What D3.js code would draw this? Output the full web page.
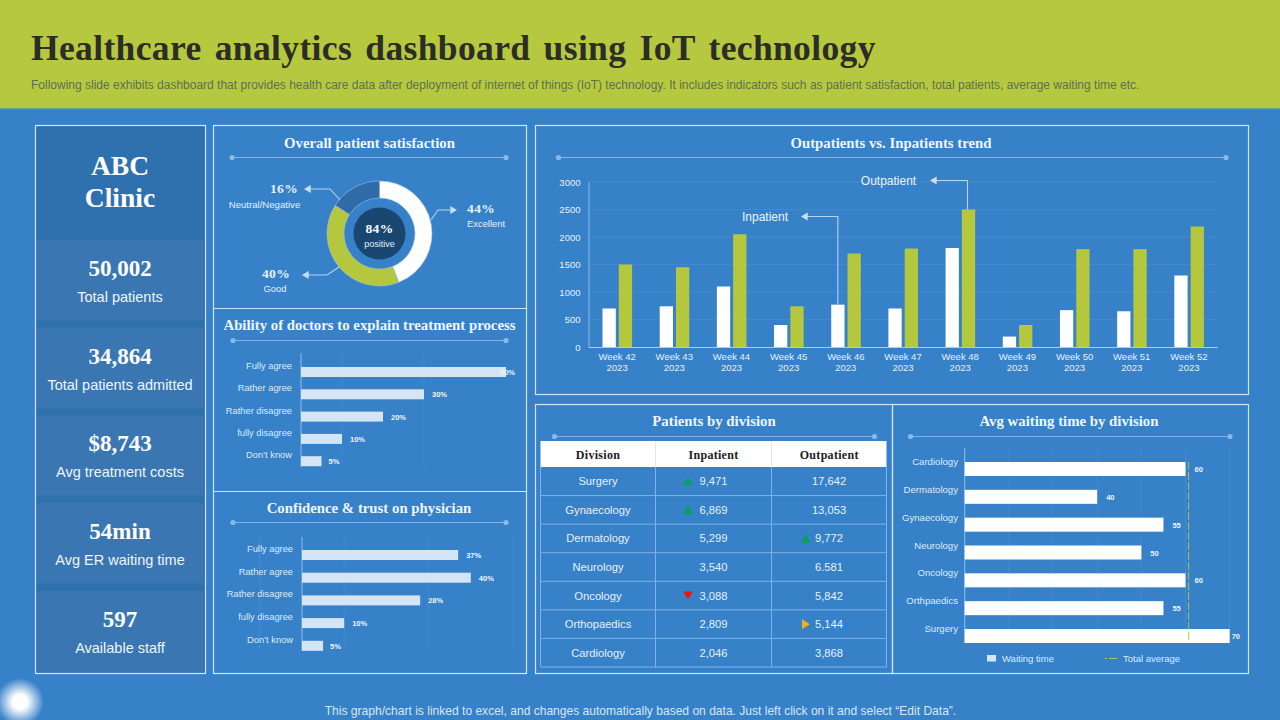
<!DOCTYPE html>
<html>
<head>
<meta charset="utf-8">
<script src="https://cdn.jsdelivr.net/npm/d3@7"></script>
<style>
html,body{margin:0;padding:0;background:#3781c8;overflow:hidden}
svg{display:block}
text{font-family:"Liberation Sans",Arial,sans-serif}
.s{font-family:"Liberation Serif","Times New Roman",serif;font-weight:bold}
</style>
</head>
<body>
<svg id="c" width="1280" height="720"></svg>
<script>
// ---------- data ----------
const pageTitle = "Healthcare analytics dashboard using IoT technology";
const pageSubtitle = "Following slide exhibits dashboard that provides health care data after deployment of internet of things (IoT) technology. It includes indicators such as patient satisfaction, total patients, average waiting time etc.";
const pageFooter = "This graph/chart is linked to excel, and changes automatically based on data. Just left click on it and select \u201cEdit Data\u201d.";
const clinicName = ["ABC", "Clinic"];
const kpiValues = ["50,002", "34,864", "$8,743", "54min", "597"];
const kpiLabels = ["Total patients", "Total patients admitted", "Avg treatment costs", "Avg ER waiting time", "Available  staff"];

const satisfactionLabels = ["Excellent", "Good", "Neutral/Negative"];
const satisfactionValues = [44, 40, 16];

const agreeLabels = ["Fully agree", "Rather agree", "Rather disagree", "fully disagree", "Don\u2019t know"];
const doctorValues = [50, 30, 20, 10, 5];
const trustValues = [37, 40, 28, 10, 5];

const weeks = ["Week 42", "Week 43", "Week 44", "Week 45", "Week 46", "Week 47", "Week 48", "Week 49", "Week 50", "Week 51", "Week 52"];
const weekYear = "2023";
const inpatientTrend = [700, 740, 1100, 400, 770, 700, 1800, 190, 670, 650, 1300];
const outpatientTrend = [1500, 1450, 2050, 740, 1700, 1790, 2500, 400, 1780, 1780, 2190];
const trendTicks = [0, 500, 1000, 1500, 2000, 2500, 3000];

const tableHeader = ["Division", "Inpatient", "Outpatient"];
const tableDivisions = ["Surgery", "Gynaecology", "Dermatology", "Neurology", "Oncology", "Orthopaedics", "Cardiology"];
const tableInpatient = ["9,471", "6,869", "5,299", "3,540", "3,088", "2,809", "2,046"];
const tableOutpatient = ["17,642", "13,053", "9,772", "6.581", "5,842", "5,144", "3,868"];
const tableInMarks = ["up", "up", "", "", "down", "", ""];
const tableOutMarks = ["", "", "up", "", "", "right", ""];

const waitDivisions = ["Cardiology", "Dermatology", "Gynaecology", "Neurology", "Oncology", "Orthpaedics", "Surgery"];
const waitValues = [60, 40, 55, 50, 60, 55, 70];
const waitAverage = 60.7;
const waitTicks = [20, 30, 40, 50, 60, 70];

// ---------- palette ----------
const BG = "#3781c8", GREEN = "#b5c73c", LINE = "#cfe6fa", RULE = "#7fb2e8", DOT = "#8db8e6",
      PALE = "#d5e5f5", TXT = "#e6f0fa", GRID = "#478cd0";

const svg = d3.select("#c");
const defs = svg.append("defs");
const glow = defs.append("radialGradient").attr("id", "glow");
glow.append("stop").attr("offset", "0.3").attr("stop-color", "#fff");
glow.append("stop").attr("offset", "1").attr("stop-color", "#fff").attr("stop-opacity", 0);

svg.append("rect").attr("width", 1280).attr("height", 720).attr("fill", BG);
svg.append("rect").attr("width", 1280).attr("height", 108).attr("fill", "#b6c83f");
svg.append("rect").attr("y", 108).attr("width", 1280).attr("height", 1.5).attr("fill", "#5f9f96");
svg.append("circle").attr("cx", 20).attr("cy", 702).attr("r", 24).attr("fill", "url(#glow)");

function txt(x, y, s, size, o = {}) {
  return svg.append("text").attr("x", x).attr("y", y).text(s)
    .attr("font-size", size).attr("fill", o.fill || TXT)
    .attr("text-anchor", o.anchor || "middle")
    .attr("class", o.serif ? "s" : null)
    .attr("font-weight", o.bold ? "bold" : null)
    .style("letter-spacing", o.ls || null)
    .style("word-spacing", o.ws || null);
}
function box(x, y, w, h) {
  svg.append("rect").attr("x", x).attr("y", y).attr("width", w).attr("height", h)
    .attr("fill", "none").attr("stroke", LINE).attr("stroke-width", 1.2);
}
function heading(cx, y, s, x1, x2, ry) {
  txt(cx, y, s, 14.8, {serif: true, fill: "#eef5fc"});
  svg.append("line").attr("x1", x1).attr("x2", x2).attr("y1", ry).attr("y2", ry).attr("stroke", RULE).attr("stroke-width", 1.2);
  [x1, x2].forEach(x => svg.append("circle").attr("cx", x).attr("cy", ry).attr("r", 2.6).attr("fill", DOT));
}

// ---------- header ----------
txt(31, 60, pageTitle, 35.5, {serif: true, fill: "#2b2d26", anchor: "start", ls: "0.36px", ws: "4px"});
txt(31, 89, pageSubtitle, 12, {fill: "#5d7050", anchor: "start"});
txt(640.5, 715, pageFooter, 12.05, {fill: "#d7e6f4"});

// ---------- KPI column ----------
svg.append("rect").attr("x", 36).attr("y", 126).attr("width", 169).attr("height", 547).attr("fill", "#2f70ae");
const kpiY = d3.scaleBand().domain(kpiValues).range([240, 671]).paddingInner(0.085).paddingOuter(0);
kpiValues.forEach((v, i) => {
  const y = kpiY(v), h = kpiY.bandwidth();
  svg.append("rect").attr("x", 36).attr("y", y).attr("width", 167).attr("height", h + (i === 4 ? 2 : 0)).attr("fill", "#3a77b2");
  txt(120, y + 36, v, 23, {serif: true, fill: "#fff"});
  txt(120, y + 62, kpiLabels[i], 14.5, {fill: "#eef5fc"});
});
txt(120, 175, clinicName[0], 27.5, {serif: true, fill: "#fff"});
txt(120, 207, clinicName[1], 27.5, {serif: true, fill: "#fff"});

box(35.5, 125.5, 170, 548);
box(213.5, 125.5, 313, 548);
svg.append("line").attr("x1", 213.5).attr("x2", 526.5).attr("y1", 308.5).attr("y2", 308.5).attr("stroke", LINE).attr("stroke-width", 1.2);
svg.append("line").attr("x1", 213.5).attr("x2", 526.5).attr("y1", 491.5).attr("y2", 491.5).attr("stroke", LINE).attr("stroke-width", 1.2);
box(535.5, 125.5, 713, 269);
box(535.5, 404.5, 357, 269);
box(892.5, 404.5, 356, 269);

// ---------- arrows ----------
function arrow(points) {
  svg.append("path").attr("d", d3.line()(points)).attr("fill", "none").attr("stroke", "#b7d4f0").attr("stroke-width", 1.1);
  const [a, b] = points.slice(-2);
  const ang = Math.atan2(b[1] - a[1], b[0] - a[0]);
  const p = t => [b[0] + Math.cos(ang + t) * 7, b[1] + Math.sin(ang + t) * 7];
  const head = [[b[0] + Math.cos(ang) * 1, b[1] + Math.sin(ang) * 1], p(Math.PI * 0.8), p(-Math.PI * 0.8)];
  svg.append("polygon").attr("points", head.join(" ")).attr("fill", "#c6dff5");
}

// ---------- donut ----------
heading(369.5, 148, "Overall patient satisfaction", 232, 506, 157.5);
const dc = [379.5, 233.5];
const pie = d3.pie().sort(null)(satisfactionValues);
const arc = d3.arc().innerRadius(35.5).outerRadius(52.5);
const donut = svg.append("g").attr("transform", `translate(${dc})`);
const sliceFill = ["#ffffff", GREEN, "#2f6ba8"];
donut.selectAll("path").data(pie).join("path").attr("d", arc)
  .attr("fill", (d, i) => sliceFill[i]).attr("stroke", "#9cc3ea").attr("stroke-width", 0.6);
donut.append("circle").attr("r", 26).attr("fill", "#1a4672");
txt(dc[0], dc[1] - 1, "84%", 13.5, {serif: true, fill: "#fff", ls: "0.4px"});
txt(dc[0], dc[1] + 13, "positive", 9, {fill: "#e6f0fa"});

arrow([[431, 220], [438, 210], [456, 210]]);
txt(467, 213, satisfactionValues[0] + "%", 13.5, {serif: true, anchor: "start", ls: "0.4px"});
txt(467, 227, satisfactionLabels[0], 9.4, {anchor: "start"});
arrow([[339, 267], [327, 275], [303, 275]]);
txt(276, 278, satisfactionValues[1] + "%", 13.5, {serif: true, ls: "0.4px"});
txt(275, 292, satisfactionLabels[1], 9.4);
arrow([[340, 200], [330, 189], [305, 189]]);
txt(284, 193, satisfactionValues[2] + "%", 13.5, {serif: true, ls: "0.4px"});
txt(264.5, 208, satisfactionLabels[2], 9.6);

// ---------- horizontal percentage bars ----------
function hbars(values, x0, perUnit, yTop, yBot, gridVals, cy0, step) {
  const x = d3.scaleLinear().domain([0, 50]).range([x0, x0 + perUnit * 50]);
  const y = d3.scalePoint().domain(agreeLabels).range([cy0, cy0 + step * 4]);
  gridVals.forEach(g => svg.append("line").attr("x1", x(g)).attr("x2", x(g)).attr("y1", yTop).attr("y2", yBot)
    .attr("stroke", GRID).attr("stroke-width", 0.8));
  svg.append("line").attr("x1", x0).attr("x2", x0).attr("y1", yTop).attr("y2", yBot).attr("stroke", "#8fbdea").attr("stroke-width", 1);
  agreeLabels.forEach((l, i) => {
    const cy = y(l);
    svg.append("rect").attr("x", x0).attr("y", cy - 5).attr("width", x(values[i]) - x0).attr("height", 10).attr("fill", PALE);
    txt(x0 - 9, cy - 3, l, 9.3, {anchor: "end", fill: "#dcebf8"});
    const lx = values[i] === 50 ? x(values[i]) - 6 : x(values[i]) + (values[i] === 5 ? 7 : 8);
    txt(lx, cy + 3, values[i] + "%", 7.5, {anchor: "start", bold: true, fill: "#eef5fc"});
  });
}
heading(369.5, 330, "Ability of doctors to explain treatment process", 233, 506, 340.5);
hbars(doctorValues, 301, 4.1, 353, 467, [10, 30], 372, 22.3);
heading(369, 513, "Confidence & trust on physician", 233, 506, 522.5);
hbars(trustValues, 302, 4.22, 537, 651, [-10, 10, 30, 50], 555, 22.7);

// ---------- trend ----------
heading(891, 148, "Outpatients vs. Inpatients trend", 558.5, 1226, 157.5);
const tx = d3.scaleBand().domain(weeks).range([588.5, 1217.5]).paddingInner(0).paddingOuter(0);
const ty = d3.scaleLinear().domain([0, 3000]).range([347, 182]);
const bandIn = d3.scaleBand().domain(["in", "out"]).range([14, 43.6]).paddingInner(0.184);
trendTicks.forEach(t => {
  if (t) svg.append("line").attr("x1", 588.5).attr("x2", 1217.5).attr("y1", ty(t)).attr("y2", ty(t)).attr("stroke", GRID).attr("stroke-width", 0.8);
});
const yAxis = svg.append("g").attr("transform", "translate(588.5,0)").call(d3.axisLeft(ty).tickValues(trendTicks).tickSize(0).tickPadding(8).tickFormat(d3.format("d")));
yAxis.select(".domain").attr("stroke", "#8fbdea");
yAxis.selectAll("text").attr("font-size", 9.5).attr("fill", TXT).attr("font-family", "Liberation Sans");
const xAxis = svg.append("g").attr("transform", "translate(0,347)").call(d3.axisBottom(tx).tickSize(0).tickPadding(6));
xAxis.select(".domain").attr("stroke", "#a5cdf2").attr("stroke-width", 1.2);
xAxis.selectAll("text").attr("font-size", 9.5).attr("fill", TXT).attr("font-family", "Liberation Sans");
xAxis.selectAll(".tick").append("text").attr("y", 17).attr("dy", "0.71em").text(weekYear)
  .attr("font-size", 9.5).attr("fill", TXT).attr("font-family", "Liberation Sans");
xAxis.selectAll(".tick text").attr("text-anchor", "middle");
svg.append("g").selectAll("rect").data(inpatientTrend).join("rect")
  .attr("x", (d, i) => tx(weeks[i]) + bandIn("in")).attr("width", bandIn.bandwidth())
  .attr("y", d => ty(d)).attr("height", d => ty(0) - ty(d)).attr("fill", "#fff");
svg.append("g").selectAll("rect").data(outpatientTrend).join("rect")
  .attr("x", (d, i) => tx(weeks[i]) + bandIn("out")).attr("width", bandIn.bandwidth())
  .attr("y", d => ty(d)).attr("height", d => ty(0) - ty(d)).attr("fill", GREEN);
const inX = tx(weeks[4]) + bandIn("in") + bandIn.bandwidth() * 0.5;
arrow([[inX, ty(inpatientTrend[4])], [inX, 216.5], [802, 216.5]]);
txt(765, 221, "Inpatient", 12, {fill: "#eaf3fb"});
const outX = tx(weeks[6]) + bandIn("out") + bandIn.bandwidth() * 0.42;
arrow([[outX, ty(outpatientTrend[6])], [outX, 180.5], [931, 180.5]]);
txt(888.5, 185, "Outpatient", 12, {fill: "#eaf3fb"});

// ---------- table ----------
heading(714, 426, "Patients by division", 554.5, 874.5, 436.5);
const colX = d3.scaleOrdinal().domain(tableHeader).range([540.5, 655.5, 771.5]);
const colW = [115, 116, 115.5];
const rowY = d3.scaleBand().domain(tableDivisions).range([467, 667]);
svg.append("rect").attr("x", 540.5).attr("y", 441).attr("width", 346).attr("height", 26).attr("fill", "#fff");
tableHeader.forEach((h, i) => {
  txt(colX(h) + colW[i] / 2, 458.5, h, 12, {serif: true, fill: "#1c1c1c", ls: "0.3px"});
});
[655.5, 771.5].forEach(x => {
  svg.append("line").attr("x1", x).attr("x2", x).attr("y1", 441).attr("y2", 467).attr("stroke", "#dfe8f2");
  svg.append("line").attr("x1", x).attr("x2", x).attr("y1", 467).attr("y2", 667).attr("stroke", "#7fb2e8");
});
[540.5, 886.5].forEach(x => svg.append("line").attr("x1", x).attr("x2", x).attr("y1", 467).attr("y2", 667).attr("stroke", "#7fb2e8"));
function mark(x, y, t) {
  const pts = {up: [[x - 4.8, y + 4], [x + 4.8, y + 4], [x, y - 4]],
               down: [[x - 4.8, y - 4], [x + 4.8, y - 4], [x, y + 4]],
               right: [[x - 4, y - 4.8], [x - 4, y + 4.8], [x + 4, y]]}[t];
  const col = {up: "#00a651", down: "#ee1111", right: "#f4b016"}[t];
  svg.append("polygon").attr("points", pts.join(" ")).attr("fill", col);
}
tableDivisions.forEach((d, i) => {
  const y = rowY(d), h = rowY.bandwidth(), cy = y + h / 2;
  svg.append("line").attr("x1", 540.5).attr("x2", 886.5).attr("y1", y + h).attr("y2", y + h).attr("stroke", "#7fb2e8").attr("stroke-width", 1);
  txt(598, cy + 4, d, 11.2);
  txt(713.5, cy + 4, tableInpatient[i], 11.2);
  txt(829, cy + 4, tableOutpatient[i], 11.2);
  if (tableInMarks[i]) mark(688, cy, tableInMarks[i]);
  if (tableOutMarks[i]) mark(806, cy, tableOutMarks[i]);
});

// ---------- waiting time ----------
heading(1069, 426, "Avg waiting time by division", 910.5, 1230, 436.5);
const wx = d3.scaleLinear().domain([10, 70]).range([964.7, 1229.7]);
const wy = d3.scalePoint().domain(waitDivisions).range([469, 636]);
waitTicks.forEach(t => svg.append("line").attr("x1", wx(t)).attr("x2", wx(t)).attr("y1", 448).attr("y2", 643).attr("stroke", GRID).attr("stroke-width", 0.8));
svg.append("line").attr("x1", 964.7).attr("x2", 964.7).attr("y1", 448).attr("y2", 643).attr("stroke", "#8fbdea");
waitDivisions.forEach((d, i) => {
  const cy = wy(d), v = waitValues[i];
  svg.append("rect").attr("x", 964.7).attr("y", cy - 7).attr("width", wx(v) - 964.7).attr("height", 14).attr("fill", "#fff");
  txt(958, cy - 4, d, 9.6, {anchor: "end", fill: "#dcebf8"});
  const lx = v === 70 ? wx(v) + 2 : wx(v) + 9;
  txt(lx, cy + 3, v, 7.5, {anchor: "start", bold: true, fill: "#eef5fc"});
});
svg.append("line").attr("x1", wx(waitAverage)).attr("x2", wx(waitAverage)).attr("y1", 462).attr("y2", 642)
  .attr("stroke", GREEN).attr("stroke-width", 0.9).attr("stroke-dasharray", "8 2");
svg.append("rect").attr("x", 987).attr("y", 655).attr("width", 9).attr("height", 6.5).attr("fill", PALE);
txt(1002, 662, "Waiting time", 9.5, {anchor: "start", fill: "#dcebf8"});
svg.append("line").attr("x1", 1105).attr("x2", 1117).attr("y1", 658.5).attr("y2", 658.5).attr("stroke", GREEN).attr("stroke-dasharray", "2 2 8 0");
txt(1123, 662, "Total average", 9.5, {anchor: "start", fill: "#dcebf8"});
</script>
</body>
</html>
